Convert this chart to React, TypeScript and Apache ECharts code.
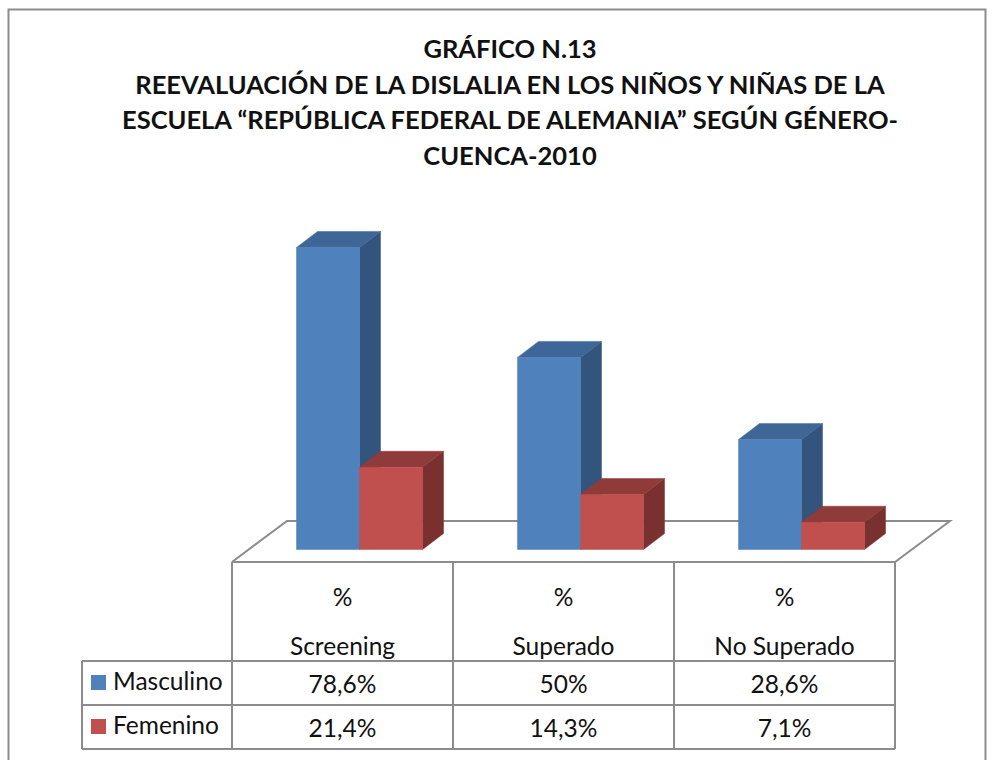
import React, { useEffect, useRef } from "react";
import * as echarts from "echarts";

const titleLines = [
  "GRÁFICO N.13",
  "REEVALUACIÓN DE LA DISLALIA EN LOS NIÑOS Y NIÑAS DE LA",
  "ESCUELA “REPÚBLICA FEDERAL DE ALEMANIA” SEGÚN GÉNERO-",
  "CUENCA-2010",
];
const categories = ["%\n\nScreening", "%\n\nSuperado", "%\n\nNo Superado"];
const seriesNames = ["Masculino", "Femenino"];
const masculino = [78.6, 50, 28.6];
const femenino = [21.4, 14.3, 7.1];

const FONT = "Lato";
const LINE = "#8c8c8c";
const COLORS = [
  { front: "#4F81BD", top: "#3E6797", side: "#33547D" },
  { front: "#C0504D", top: "#8F3B39", side: "#7A302E" },
];
const BAR_W = 63;
const SHIFT = 17;
const DX = 21;
const DY = -16;

const fmt = (v: number) => String(v).replace(".", ",") + "%";

function bar3d(seriesIdx: number) {
  const c = COLORS[seriesIdx];
  return (_p: any, api: any) => {
    const cat = api.value(0);
    const val = api.value(1);
    const [cx, y1] = api.coord([cat, val]);
    const [, y0] = api.coord([cat, 0]);
    const x0 = cx + SHIFT + (seriesIdx === 0 ? -BAR_W : 0);
    const x1 = x0 + BAR_W;
    const poly = (points: number[][], fill: string) => ({
      type: "polygon",
      shape: { points },
      style: { fill, stroke: fill, lineWidth: 0.5 },
    });
    return {
      type: "group",
      children: [
        poly([[x1, y1], [x1 + DX, y1 + DY], [x1 + DX, y0 + DY], [x1, y0]], c.side),
        poly([[x0, y1], [x0 + DX, y1 + DY], [x1 + DX, y1 + DY], [x1, y1]], c.top),
        poly([[x0, y1], [x1, y1], [x1, y0], [x0, y0]], c.front),
      ],
    };
  };
}

const line = (x1: number, y1: number, x2: number, y2: number) => ({
  type: "line",
  z: 1,
  shape: { x1, y1, x2, y2 },
  style: { stroke: LINE, lineWidth: 2 },
});

const COLS = [232, 453, 674, 895];
const ROWS = [661, 705, 749];

function buildGraphic() {
  const els: any[] = [
    {
      type: "polyline",
      z: 1,
      shape: { points: [[8.5, 760], [8.5, 9.5], [985.5, 9.5], [985.5, 760]] },
      style: { stroke: LINE, lineWidth: 2, fill: "none" },
    },
    {
      type: "polyline",
      z: 1,
      shape: { points: [[232, 562], [287, 521], [950, 521], [895, 562], [232, 562]] },
      style: { stroke: LINE, lineWidth: 2, fill: "none" },
    },
  ];
  COLS.forEach((x) => els.push(line(x, 562, x, 749)));
  els.push(line(82, 661, 895, 661), line(82, 705, 895, 705), line(82, 749, 895, 749), line(82, 661, 82, 749));
  seriesNames.forEach((name, r) => {
    const yc = (ROWS[r] + ROWS[r + 1]) / 2;
    els.push({
      type: "rect",
      z: 2,
      shape: { x: 91, y: yc - 8, width: 15, height: 15 },
      style: { fill: COLORS[r].front },
    });
    els.push({
      type: "text",
      z: 2,
      x: 113,
      y: yc - 3,
      style: { text: name, fontFamily: FONT, fontSize: 24.5, fill: "#111", textVerticalAlign: "middle", textAlign: "left" },
    });
    const values = r === 0 ? masculino : femenino;
    values.forEach((v, i) => {
      els.push({
        type: "text",
        z: 2,
        x: (COLS[i] + COLS[i + 1]) / 2,
        y: yc,
        style: { text: fmt(v), fontFamily: FONT, fontSize: 24.5, fill: "#111", textAlign: "center", textVerticalAlign: "middle" },
      });
    });
  });
  return els;
}

export default function App() {
  const ref = useRef<HTMLDivElement>(null);
  useEffect(() => {
    const chart = echarts.init(ref.current!, undefined, { renderer: "svg" });
    chart.setOption({
      animation: false,
      backgroundColor: "#fff",
      title: {
        text: titleLines.join("\n"),
        left: 505,
        top: 25,
        textAlign: "center",
        textStyle: { fontFamily: FONT, fontSize: 25.5, fontWeight: "bold", color: "#111", lineHeight: 35.7 },
      },
      grid: { left: 232, width: 663, top: 165.3, height: 384.2 },
      xAxis: {
        type: "category",
        data: categories,
        axisLine: { show: false },
        axisTick: { show: false },
        axisLabel: { interval: 0, margin: 35, fontFamily: FONT, fontSize: 24.5, color: "#111", lineHeight: 24.5 },
      },
      yAxis: { type: "value", min: 0, max: 100, show: false },
      graphic: { elements: buildGraphic() },
      series: [masculino, femenino].map((vals, s) => ({
        type: "custom",
        name: seriesNames[s],
        z: 5,
        renderItem: bar3d(s),
        encode: { x: 0, y: 1 },
        data: vals.map((v, i) => [i, v]),
      })),
    });
    return () => chart.dispose();
  }, []);
  return <div ref={ref} style={{ position: "fixed", left: 0, top: 0, width: 996, height: 760 }} />;
}
